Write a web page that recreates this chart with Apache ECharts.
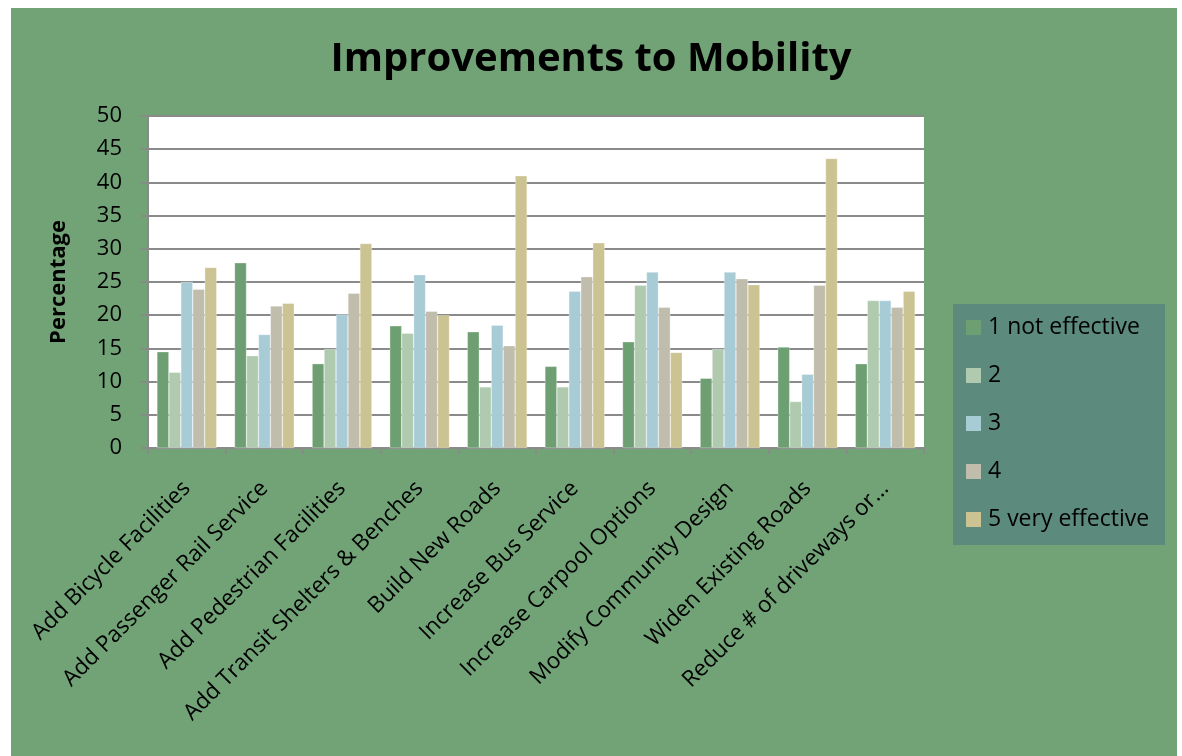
<!DOCTYPE html>
<html>
<head>
<meta charset="utf-8">
<script src="https://cdn.jsdelivr.net/npm/echarts@6/dist/echarts.min.js"></script>
<style>
html,body{margin:0;padding:0;background:#ffffff;}
#chart{width:1182px;height:756px;}
</style>
</head>
<body>
<div id="chart"></div>
<script>
const categories = [
  'Add Bicycle Facilities',
  'Add Passenger Rail Service',
  'Add Pedestrian Facilities',
  'Add Transit Shelters & Benches',
  'Build New Roads',
  'Increase Bus Service',
  'Increase Carpool Options',
  'Modify Community Design',
  'Widen Existing Roads',
  'Reduce # of driveways or…'
];
const seriesNames = ['1 not effective', '2', '3', '4', '5 very effective'];
const s1 = [14.5, 27.9, 12.7, 18.4, 17.5, 12.3, 16.0, 10.5, 15.2, 12.7];
const s2 = [11.4, 13.9, 14.9, 17.3, 9.2, 9.2, 24.5, 14.9, 7.0, 22.2];
const s3 = [25.0, 17.1, 20.1, 26.1, 18.5, 23.6, 26.5, 26.5, 11.1, 22.2];
const s4 = [23.9, 21.4, 23.3, 20.6, 15.4, 25.8, 21.2, 25.5, 24.5, 21.2];
const s5 = [27.2, 21.8, 30.8, 20.0, 41.0, 30.9, 14.4, 24.6, 43.6, 23.6];
const yTicks = [0, 5, 10, 15, 20, 25, 30, 35, 40, 45, 50];

const colors = ['#6E9F72', '#AFCAAE', '#A8CCD6', '#C0BDAD', '#CCC392'];
const FONT = 'Open Sans';
const allData = [s1, s2, s3, s4, s5];

const chart = echarts.init(document.getElementById('chart'), null, {renderer: 'canvas'});
chart.setOption({
  animation: false,
  backgroundColor: '#ffffff',
  color: colors,
  graphic: [
    {type: 'rect', z: -10, shape: {x: 11, y: 8, width: 1166, height: 760}, style: {fill: '#71A377'}, silent: true},
    {type: 'rect', z: -5, shape: {x: 953, y: 304, width: 212, height: 241}, style: {fill: '#5C8A7D'}, silent: true}
  ],
  title: {
    text: 'Improvements to Mobility',
    left: 'center',
    top: 35,
    textStyle: {fontFamily: FONT, fontSize: 40, fontWeight: 'bold', color: '#000'}
  },
  legend: {
    orient: 'vertical',
    left: 966,
    top: 316,
    padding: 0,
    itemWidth: 15,
    itemHeight: 15,
    itemGap: 25,
    icon: 'rect',
    itemStyle: {borderWidth: 0},
    data: seriesNames,
    textStyle: {fontFamily: FONT, fontSize: 23, color: '#000', padding: [0, 0, 0, 2]}
  },
  grid: {
    left: 148, right: 258, top: 116, bottom: 308,
    show: true, backgroundColor: '#ffffff', borderWidth: 0,
    containLabel: false
  },
  xAxis: {
    type: 'category',
    data: categories,
    axisLine: {lineStyle: {color: '#8a8a8a', width: 2}},
    axisTick: {show: true, length: 6, lineStyle: {color: '#8a8a8a', width: 2}},
    axisLabel: {rotate: 45, margin: 37, fontFamily: FONT, fontSize: 22.5, color: '#000', interval: 0}
  },
  yAxis: {
    type: 'value',
    min: yTicks[0], max: yTicks[yTicks.length - 1], interval: 5,
    name: 'Percentage',
    nameLocation: 'middle',
    nameGap: 78,
    nameTextStyle: {fontFamily: FONT, fontSize: 22, fontWeight: 'bold', color: '#000'},
    axisLine: {show: true, lineStyle: {color: '#8a8a8a', width: 2}},
    axisTick: {show: true, length: 7, lineStyle: {color: '#8a8a8a', width: 2}},
    axisLabel: {margin: 26, fontFamily: FONT, fontSize: 22, color: '#000'},
    splitLine: {lineStyle: {color: '#8a8a8a', width: 2}}
  },
  series: seriesNames.map((n, i) => ({
    name: n,
    type: 'bar',
    data: allData[i],
    barGap: '0%',
    barCategoryGap: '23%',
    itemStyle: {color: colors[i], borderColor: 'rgba(255,255,255,0.6)', borderWidth: 0.5}
  }))
});
</script>
</body>
</html>
